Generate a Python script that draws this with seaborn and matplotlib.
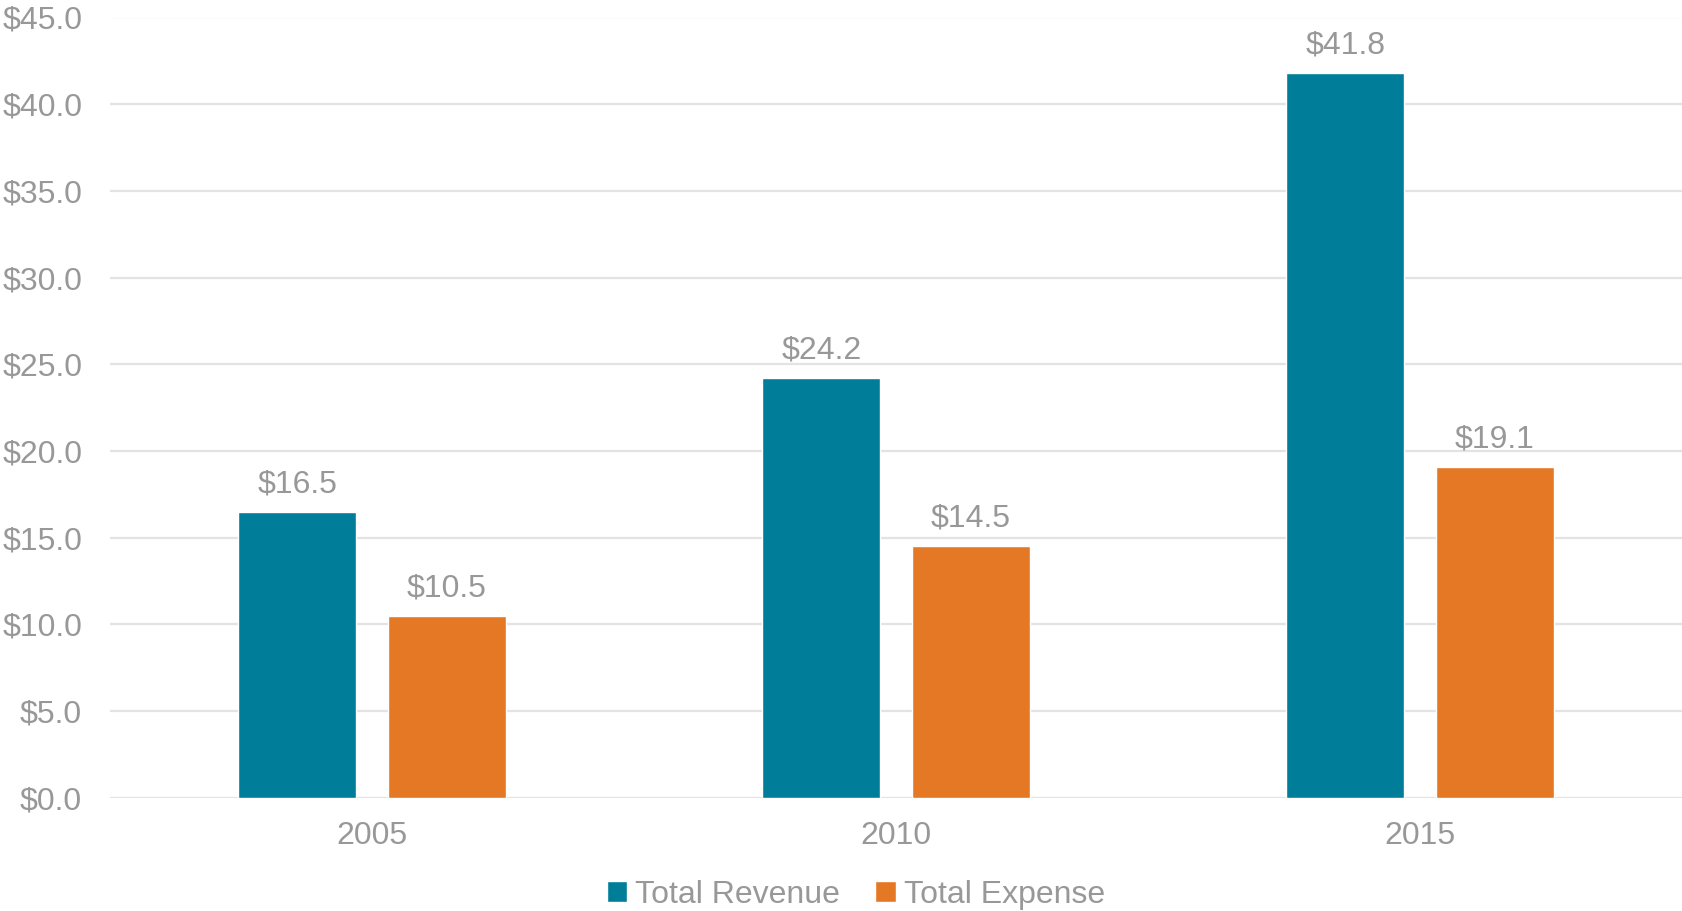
import pandas as pd
import matplotlib
matplotlib.use("Agg")
import matplotlib.pyplot as plt
import seaborn as sns

years = ["2005", "2010", "2015"]
revenue = [16.5, 24.2, 41.8]
expense = [10.5, 14.5, 19.1]
series_names = ["Total Revenue", "Total Expense"]
colors = ["#007E99", "#E57825"]
TEXT_GRAY = "#989898"
GRID_GRAY = "#E3E3E3"

df = pd.DataFrame({
    "Year": years * 2,
    "Value": revenue + expense,
    "Series": [series_names[0]] * len(years) + [series_names[1]] * len(years),
})

sns.set_theme(style="white")
plt.rcParams["font.family"] = ["Liberation Sans", "DejaVu Sans"]

fig = plt.figure(figsize=(16.82, 9.11), dpi=100)
ax = fig.add_axes([110 / 1682, 1 - 797.7 / 911, 1572 / 1682, (797.7 - 17.5) / 911])

sns.barplot(data=df, x="Year", y="Value", hue="Series", palette=colors,
            width=0.57, gap=0.21, saturation=1, ax=ax, legend=True)

for container in ax.containers:
    ax.bar_label(container, labels=[f"${v:.1f}" for v in container.datavalues],
                 padding=9, fontsize=23, color=TEXT_GRAY)

ax.set_ylim(0, 45)
ax.set_xlim(-0.5, 2.5)
ax.set_yticks(range(0, 46, 5))
ax.set_yticklabels([f"${v:.1f}" for v in range(0, 46, 5)])
ax.yaxis.grid(True, color=GRID_GRAY, linewidth=1.6)
ax.set_axisbelow(True)
for s in ax.spines.values():
    s.set_visible(False)
ax.tick_params(axis="y", length=0, pad=20, labelsize=23, labelcolor=TEXT_GRAY)
ax.tick_params(axis="x", length=0, pad=17, labelsize=23, labelcolor=TEXT_GRAY)
ax.set_xlabel("")
ax.set_ylabel("")

handles, labels = ax.get_legend_handles_labels()
ax.get_legend().remove()
fig.legend(handles, labels, loc="center", bbox_to_anchor=(856 / 1682, 1 - 895 / 911),
           ncol=2, frameon=False, fontsize=23, labelcolor=TEXT_GRAY,
           handlelength=0.65, handleheight=0.65, handletextpad=0.25, columnspacing=1.1)

fig.savefig("out.png", dpi=100)
